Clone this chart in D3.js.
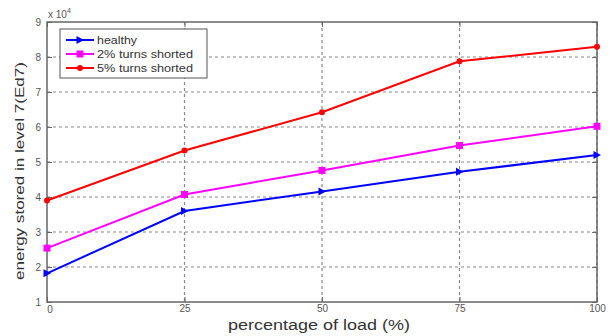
<!DOCTYPE html>
<html><head><meta charset="utf-8">
<script src="https://cdn.jsdelivr.net/npm/d3@7"></script>
<style>body{margin:0;background:#fff}svg{display:block;font-family:"Liberation Sans",Arial,sans-serif}</style>
</head><body><svg id="c" width="615" height="336"></svg>
<script>
const loads = [0, 25, 50, 75, 100];
const healthy = [1.82, 3.6, 4.16, 4.72, 5.2];
const shorted2 = [2.54, 4.07, 4.76, 5.47, 6.02];
const shorted5 = [3.9, 5.33, 6.42, 7.88, 8.29];
const yTicks = [1, 2, 3, 4, 5, 6, 7, 8, 9];
const xTicks = [0, 25, 50, 75, 100];
const seriesNames = ["healthy", "2% turns shorted", "5% turns shorted"];
const seriesColors = ["#0000ff", "#ff00ff", "#ff0000"];
const seriesMarkers = ["triangle", "square", "circle"];

const svg = d3.select("#c");
const L = 47, R = 597, T = 22, B = 302;
const x = d3.scaleLinear().domain([0, 100]).range([L, R]);
const y = d3.scaleLinear().domain([1, 9]).range([B, T]);

// grid
const g = svg.append("g");
g.selectAll(".hg").data(yTicks.slice(1, -1)).enter().append("line")
  .attr("x1", L).attr("x2", R).attr("y1", d => y(d)).attr("y2", d => y(d))
  .attr("stroke", "#888").attr("stroke-width", 1.2).attr("stroke-dasharray", "3,3");
g.selectAll(".vg").data(xTicks.slice(1)).enter().append("line")
  .attr("y1", T).attr("y2", B).attr("x1", d => x(d)).attr("x2", d => x(d))
  .attr("stroke", "#888").attr("stroke-width", 1.2).attr("stroke-dasharray", "3,3");

// axes (ticks inside)
const ax = d3.axisBottom(x).tickValues(xTicks).tickSize(-5).tickPadding(3).tickFormat(d => d === 0 ? "" : d);
const axT = d3.axisTop(x).tickValues(xTicks).tickSize(-5).tickFormat("");
const ay = d3.axisLeft(y).tickValues(yTicks).tickSize(-5).tickPadding(6);
const ayR = d3.axisRight(y).tickValues(yTicks).tickSize(-5).tickFormat("");
function style(sel){
  sel.select(".domain").remove();
  sel.selectAll("line").attr("stroke", "#666");
  sel.selectAll("text").attr("fill", "#555").style("font-size", "10px");
}
svg.append("g").attr("transform", `translate(0,${B})`).call(ax).call(style);
svg.append("g").attr("transform", `translate(0,${T})`).call(axT).call(style);
svg.append("g").attr("transform", `translate(${L},0)`).call(ay).call(style);
svg.append("g").attr("transform", `translate(${R},0)`).call(ayR).call(style);
svg.append("text").attr("x", x(0) + 3).attr("y", B + 11).attr("text-anchor", "middle")
  .attr("fill", "#555").style("font-size", "10px").text("0");
svg.append("rect").attr("x", L).attr("y", T).attr("width", R - L).attr("height", B - T)
  .attr("fill", "none").attr("stroke", "#666").attr("stroke-width", 1.5);

// exponent
const ex = svg.append("text").attr("x", 48).attr("y", 18).attr("fill", "#555").style("font-size", "10px");
ex.append("tspan").text("x 10");
ex.append("tspan").attr("dy", -5).style("font-size", "7px").text("4");

// series
const data = [healthy, shorted2, shorted5];
const line = d3.line().x((d, i) => x(loads[i])).y(d => y(d));
function marker(sel, type, color, cx, cy){
  if (type === "circle") sel.append("circle").attr("cx", cx).attr("cy", cy).attr("r", 3).attr("fill", color);
  else if (type === "square") sel.append("rect").attr("x", cx - 3.5).attr("y", cy - 3.5).attr("width", 7).attr("height", 7).attr("fill", color);
  else sel.append("path").attr("d", `M${cx+4},${cy} L${cx-3.5},${cy-4} L${cx-3.5},${cy+4} Z`).attr("fill", color);
}
data.forEach((s, k) => {
  svg.append("path").datum(s).attr("d", line).attr("fill", "none")
    .attr("stroke", seriesColors[k]).attr("stroke-width", 2);
  const mg = svg.append("g");
  s.forEach((v, i) => marker(mg, seriesMarkers[k], seriesColors[k], x(loads[i]), y(v)));
});

// legend
const lg = svg.append("g");
lg.append("rect").attr("x", 60).attr("y", 29).attr("width", 147).attr("height", 49)
  .attr("fill", "#fff").attr("stroke", "#555").attr("stroke-width", 1);
const legendWidths = [40, 96, 96];
seriesNames.forEach((n, k) => {
  const yy = 40 + k * 14;
  lg.append("line").attr("x1", 66).attr("x2", 94).attr("y1", yy).attr("y2", yy)
    .attr("stroke", seriesColors[k]).attr("stroke-width", 2);
  marker(lg, seriesMarkers[k], seriesColors[k], 80, yy);
  lg.append("text").attr("x", 97).attr("y", yy + 3.5).attr("fill", "#333").style("font-size", "10px")
    .attr("textLength", legendWidths[k]).attr("lengthAdjust", "spacingAndGlyphs").text(n);
});

// labels
svg.append("text").attr("x", 319).attr("y", 330).attr("text-anchor", "middle")
  .attr("fill", "#333").style("font-size", "14px")
  .attr("textLength", 182).attr("lengthAdjust", "spacingAndGlyphs").text("percentage of load (%)");
svg.append("text").attr("transform", "translate(24,171) rotate(-90)").attr("text-anchor", "middle")
  .attr("fill", "#333").style("font-size", "12.5px")
  .attr("textLength", 218).attr("lengthAdjust", "spacingAndGlyphs").text("energy stored in level 7(Ed7)");
</script></body></html>
